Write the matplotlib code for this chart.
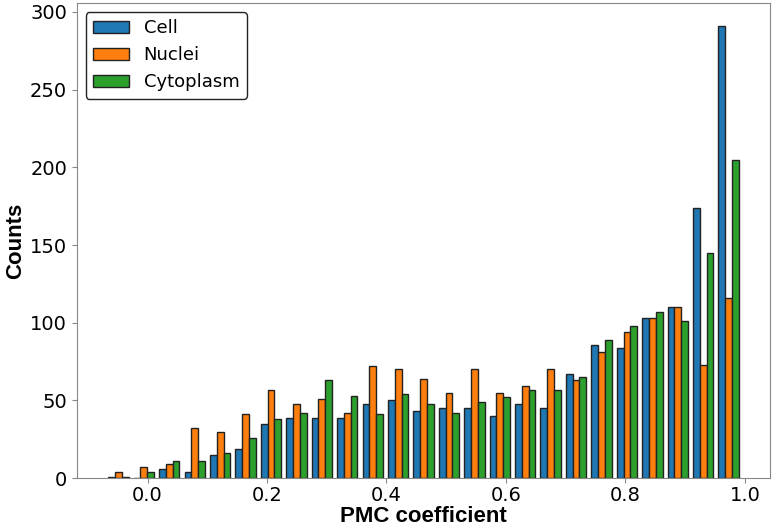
import numpy as np
import matplotlib
matplotlib.use("Agg")
import matplotlib.pyplot as plt

# Histogram data (25 bins)
bin_edges = np.linspace(-0.07, 0.994, 26)
labels = ["Cell", "Nuclei", "Cytoplasm"]
cell = [1, 0, 6, 4, 15, 19, 35, 39, 39, 39, 48, 50, 43, 45, 45, 40, 48, 45, 67, 86, 84, 103, 110, 174, 291]
nuclei = [4, 7, 9, 32, 30, 41, 57, 48, 51, 42, 72, 70, 64, 55, 70, 55, 59, 70, 63, 81, 94, 103, 110, 73, 116]
cytoplasm = [1, 4, 11, 11, 16, 26, 38, 42, 63, 53, 41, 54, 48, 42, 49, 52, 57, 57, 65, 89, 98, 107, 101, 145, 205]

centers = 0.5 * (bin_edges[:-1] + bin_edges[1:])

fig = plt.figure(figsize=(7.75, 5.29), dpi=100)
ax = fig.add_axes([0.099, 0.096, 0.895, 0.898])

ax.hist([centers, centers, centers], bins=bin_edges,
        weights=[cell, nuclei, cytoplasm], label=labels,
        color=["#1f77b4", "#ff7f0e", "#2ca02c"],
        edgecolor="#222222", linewidth=1.0)

ax.set_xticks([0.0, 0.2, 0.4, 0.6, 0.8, 1.0])
ax.set_yticks([0, 50, 100, 150, 200, 250, 300])
ax.tick_params(labelsize=14, color="#888888")
ax.tick_params(axis="x", pad=2)
for s in ax.spines.values():
    s.set_color("#888888")

ax.set_xlabel("PMC coefficient", fontsize=16, fontweight="bold",
              family=["Liberation Sans", "DejaVu Sans"], labelpad=1)
ax.set_ylabel("Counts", fontsize=16, fontweight="bold",
              family=["Liberation Sans", "DejaVu Sans"], labelpad=3)

leg = ax.legend(loc="upper left", fontsize=13, fancybox=True, framealpha=1.0)
leg.get_frame().set_edgecolor("#222222")

fig.savefig("out.png", dpi=100)
